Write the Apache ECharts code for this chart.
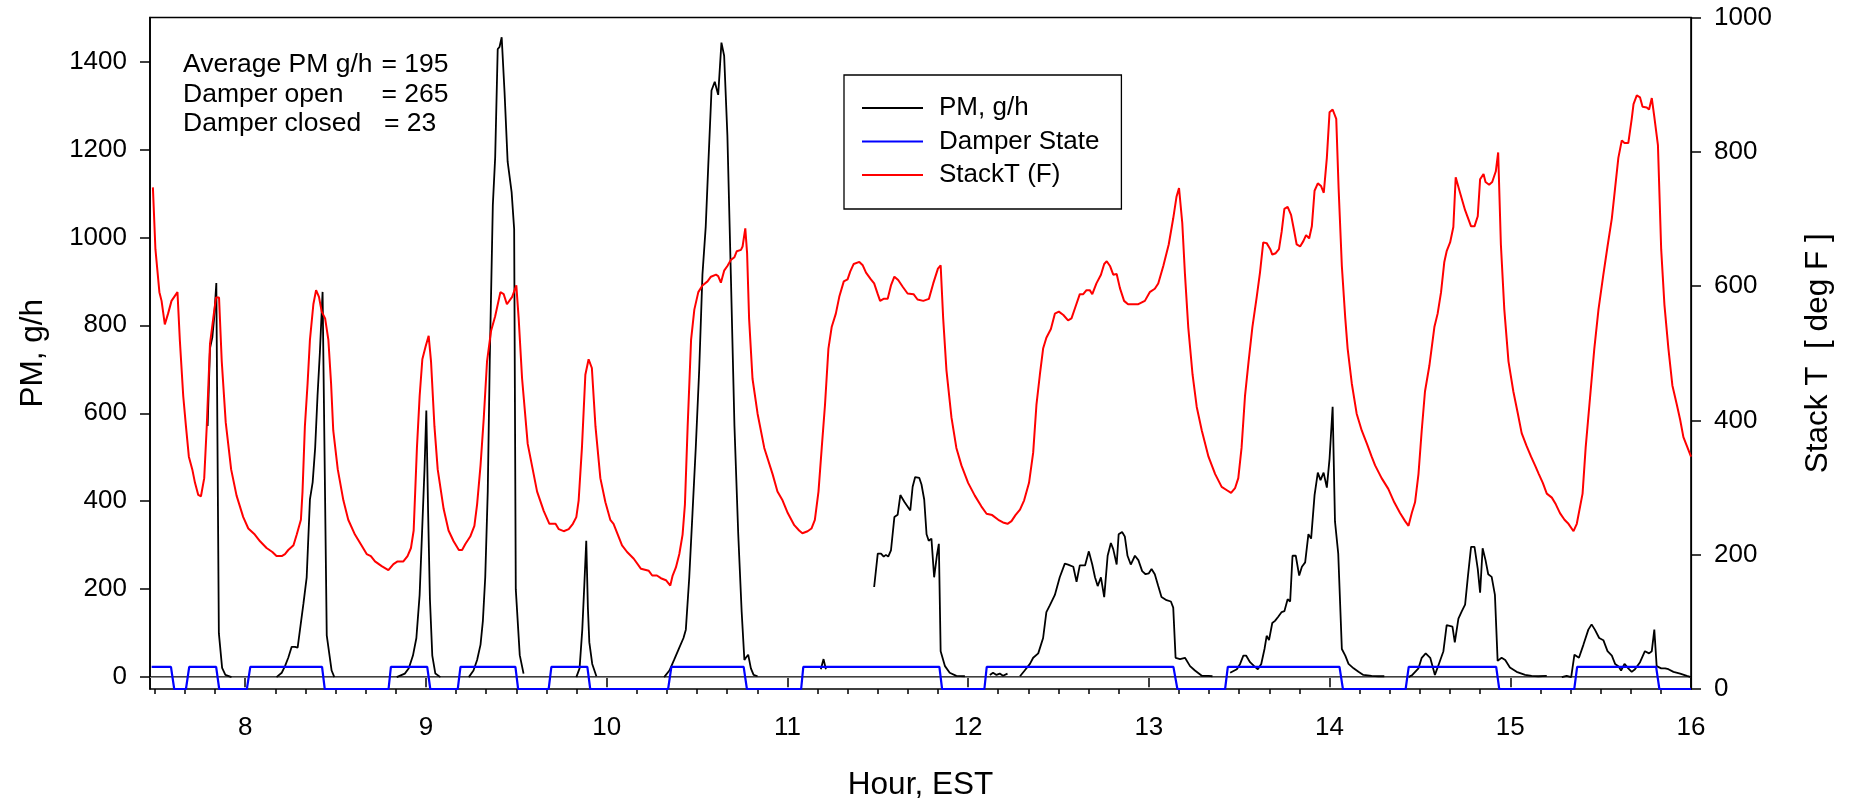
<!DOCTYPE html>
<html>
<head>
<meta charset="utf-8">
<script src="https://cdn.jsdelivr.net/npm/echarts@6/dist/echarts.min.js"></script>
<style>
html,body{margin:0;padding:0;background:#fff;}
#chart{width:1857px;height:806px;}
</style>
</head>
<body>
<div id="chart"></div>
<script>
// ---------------- DATA ----------------
// Stack temperature (deg F) vs hour (EST)
const stackHour = [
7.489,7.503,7.525,7.537,7.555,7.573,7.592,7.625,7.638,7.657,7.672,7.688,7.707,7.722,7.740,7.755,7.773,7.787,7.805,7.823,7.838,7.855,7.870,7.892,7.922,7.952,7.989,
8.017,8.053,8.082,8.118,8.150,8.173,8.202,8.220,8.238,8.267,8.285,8.308,8.317,8.330,8.345,8.358,8.377,8.392,8.408,8.423,8.442,8.460,8.475,8.487,8.512,8.543,8.570,8.607,8.643,8.672,8.695,8.718,8.755,8.792,8.820,8.843,8.875,8.898,8.917,8.932,8.950,8.965,8.980,8.998,
9.015,9.028,9.047,9.065,9.098,9.125,9.153,9.182,9.200,9.218,9.245,9.268,9.283,9.302,9.320,9.338,9.360,9.383,9.412,9.430,9.448,9.477,9.500,9.513,9.532,9.563,9.615,9.652,9.683,9.717,9.735,9.762,9.790,9.813,9.832,9.845,9.863,9.882,9.900,9.918,9.938,9.965,9.993,
10.020,10.038,10.085,10.113,10.150,10.190,10.233,10.252,10.278,10.300,10.328,10.352,10.365,10.383,10.402,10.420,10.433,10.448,10.467,10.485,10.507,10.530,10.558,10.577,10.605,10.617,10.632,10.650,10.668,10.687,10.707,10.720,10.743,10.752,10.767,10.777,10.788,10.807,10.835,10.872,10.918,10.945,10.973,
11.002,11.038,11.065,11.083,11.112,11.133,11.152,11.172,11.190,11.208,11.227,11.245,11.268,11.287,11.312,11.333,11.348,11.367,11.398,11.417,11.435,11.462,11.480,11.500,11.513,11.532,11.555,11.573,11.592,11.613,11.638,11.665,11.698,11.720,11.752,11.783,11.807,11.833,11.848,11.862,11.880,11.908,11.935,11.963,
12.000,12.037,12.073,12.102,12.133,12.167,12.193,12.218,12.240,12.262,12.287,12.310,12.337,12.360,12.378,12.397,12.415,12.433,12.458,12.480,12.502,12.527,12.553,12.572,12.595,12.618,12.637,12.655,12.673,12.687,12.710,12.735,12.753,12.767,12.785,12.803,12.822,12.840,12.863,12.885,12.942,12.978,
13.005,13.033,13.052,13.080,13.110,13.135,13.153,13.167,13.185,13.200,13.218,13.242,13.265,13.293,13.330,13.367,13.403,13.432,13.455,13.477,13.495,13.513,13.532,13.552,13.573,13.597,13.615,13.633,13.652,13.672,13.683,13.702,13.720,13.735,13.750,13.768,13.787,13.805,13.818,13.837,13.855,13.870,13.887,13.902,13.917,13.935,13.953,13.968,13.985,
14.000,14.017,14.037,14.050,14.068,14.087,14.100,14.123,14.150,14.178,14.207,14.233,14.252,14.288,14.325,14.358,14.390,14.418,14.437,14.455,14.473,14.492,14.510,14.528,14.552,14.580,14.598,14.617,14.635,14.648,14.667,14.685,14.698,14.722,14.750,14.783,14.802,14.820,14.833,14.852,14.863,14.883,14.900,14.920,14.933,14.948,14.967,14.990,
15.017,15.042,15.063,15.090,15.115,15.137,15.158,15.180,15.202,15.230,15.252,15.275,15.300,15.322,15.350,15.368,15.400,15.417,15.442,15.465,15.488,15.515,15.538,15.562,15.580,15.598,15.617,15.632,15.653,15.672,15.682,15.700,15.718,15.732,15.755,15.768,15.783,15.797,15.817,15.835,15.853,15.875,15.897,15.922,15.940,15.958,15.977,16.000
];
const stackTempF = [
747,655,591,578,543,559,578,591,520,436,391,346,327,307,289,287,314,391,514,552,583,583,488,397,327,288,256,
239,230,220,210,204,198,198,201,207,214,230,252,294,391,455,520,573,594,584,562,552,520,455,385,327,281,252,230,214,201,198,190,183,177,186,190,190,198,210,236,359,436,491,510,
526,488,391,327,268,236,220,207,207,216,227,243,275,333,404,488,533,555,591,588,573,584,601,552,462,365,294,265,246,246,238,235,238,246,256,281,359,468,491,478,391,314,278,
252,246,214,204,194,179,176,169,169,165,162,154,169,181,201,230,275,391,520,565,591,601,607,614,617,615,605,623,630,639,643,652,654,659,686,649,552,462,410,359,320,294,281,
262,244,236,232,235,239,252,294,359,423,507,539,559,584,607,610,622,633,636,631,620,610,604,588,578,581,581,601,614,609,599,589,588,580,578,581,604,626,631,552,475,404,359,333,
307,288,272,261,259,252,248,246,250,259,267,281,307,352,423,468,507,523,536,559,562,557,549,552,570,588,588,594,594,588,604,617,633,637,630,617,618,597,578,573,573,578,
591,596,604,630,662,701,733,746,694,617,539,468,420,385,346,320,301,296,292,299,314,359,436,488,539,584,620,665,664,655,647,649,655,681,715,718,706,681,662,659,667,676,671,689,742,753,749,739,791,
859,863,849,746,630,552,507,455,410,385,365,346,333,314,298,278,262,250,243,262,278,320,385,443,481,539,559,591,636,652,665,688,762,739,713,689,689,704,759,767,755,751,755,771,799,662,565,488,
443,410,381,362,346,333,320,307,291,285,275,262,252,246,235,246,291,359,436,507,565,617,659,701,746,791,817,813,813,849,871,884,881,867,866,863,880,852,810,655,572,507,452,423,401,375,362,346
];

// PM (g/h) vs hour; null marks a gap in the record
const pmHour = [
7.792,7.805,7.818,7.828,7.840,7.854,7.872,7.890,7.924, 8.05,
8.173,8.202,8.220,8.238,8.257,8.275,8.290,8.303,8.322,8.340,8.358,8.373,8.387,8.400,8.413,8.428,8.451,8.478,8.493, 8.65,
8.838,8.883,8.905,8.928,8.947,8.965,8.978,8.992,9.002,9.012,9.022,9.035,9.052,9.080, 9.15,
9.237,9.263,9.283,9.302,9.315,9.328,9.342,9.353,9.370,9.383,9.397,9.407,9.419,9.435,9.452,9.474,9.488,9.497,9.519,9.540, 9.7,
9.832,9.850,9.865,9.876,9.887,9.896,9.904,9.920,9.943, 10.1,
10.318,10.347,10.373,10.402,10.425,10.438,10.457,10.475,10.493,10.512,10.530,10.548,10.562,10.580,10.598,10.617,10.635,10.650,10.668,10.687,10.707,10.728,10.747,10.762,10.770,10.783,10.798,10.813,10.835, 11.0,
11.185,11.200,11.213, 11.3,
11.480,11.500,11.518,11.533,11.545,11.558,11.573,11.592,11.610,11.625,11.647,11.680,11.693,11.707,11.730,11.742,11.757,11.770,11.782,11.797,11.812,11.827,11.838,11.848,11.872,11.898,11.935,11.982, 12.05,
12.120,12.138,12.157,12.175,12.193,12.218, 12.25,
12.287,12.313,12.342,12.360,12.388,12.415,12.433,12.452,12.480,12.507,12.535,12.553,12.582,12.600,12.618,12.647,12.668,12.687,12.702,12.717,12.735,12.753,12.772,12.790,12.803,12.822,12.833,12.852,12.867,12.882,12.900,12.923,12.942,12.963,12.982,13.000,13.015,13.033,13.052,13.070,13.098,13.122,13.135,13.148,13.173,13.200,13.228,13.255,13.293,13.330,13.352, 13.4,
13.450,13.487,13.505,13.523,13.538,13.560,13.583,13.603,13.622,13.640,13.652,13.665,13.683,13.698,13.717,13.735,13.750,13.768,13.782,13.795,13.813,13.832,13.847,13.865,13.883,13.898,13.917,13.935,13.950,13.967,13.985,14.000,14.017,14.030,14.048,14.068,14.087,14.105,14.133,14.160,14.187,14.233,14.270,14.303, 14.37,
14.437,14.458,14.492,14.510,14.532,14.557,14.583,14.605,14.630,14.648,14.680,14.693,14.713,14.732,14.750,14.765,14.783,14.802,14.820,14.833,14.847,14.863,14.878,14.897,14.915,14.930,14.952,14.972,14.998,15.035,15.082,15.118,15.155,15.202, 15.24,
15.285,15.312,15.337,15.355,15.380,15.405,15.432,15.450,15.468,15.492,15.515,15.538,15.562,15.580,15.598,15.613,15.632,15.653,15.672,15.690,15.718,15.745,15.768,15.783,15.797,15.810,15.835,15.857,15.875,15.903,15.940,15.977,16.000
];
const pmGph = [
571,748,773,817,896,100,21,5,0, null,
0,10,25,44,69,69,67,108,167,227,404,443,522,640,738,876,95,15,0, null,
0,8,20,49,89,187,325,473,606,374,177,49,8,0, null,
0,15,39,74,128,227,423,719,1073,1182,1428,1433,1455,1329,1172,1103,1019,200,50,8, null,
0,20,108,207,310,158,79,30,2, null,
0,15,39,67,89,108,227,374,522,699,916,1024,1162,1334,1354,1324,1443,1413,1231,916,571,325,148,39,44,51,20,5,2, null,
18,41,18, null,
205,281,281,274,278,274,288,364,369,414,399,379,433,455,453,438,404,325,310,315,227,276,303,59,25,10,3,2, null,
5,10,5,8,3,8, null,
2,15,30,44,54,89,148,163,187,227,258,256,251,217,254,254,286,256,227,207,227,182,276,305,291,256,325,330,320,276,256,276,266,241,234,236,246,234,207,182,175,172,158,44,41,44,25,15,3,3,2, null,
10,18,30,49,49,34,25,18,30,64,94,84,123,128,138,148,150,177,172,276,276,231,251,261,325,315,414,465,448,465,431,497,615,354,281,64,49,30,20,12,5,3,2,2, null,
0,5,20,44,54,44,5,30,59,118,115,79,133,150,165,227,296,296,246,192,293,266,234,228,187,37,44,39,22,12,5,3,2,3, null,
0,3,0,51,44,74,108,120,108,89,84,59,49,30,25,15,30,20,12,18,34,59,54,59,108,25,20,20,18,12,8,3,0
];

// Damper state (drawn against the right axis: 33 = open, 0 = closed)
const damperHour = [
7.482,7.589,7.607,7.672,7.690,7.839,7.856,8.009,8.028,8.425,8.440,8.793,8.806,9.007,9.024,9.176,9.191,9.495,9.510,9.679,9.694,9.893,9.909,
10.340,10.358,10.758,10.776,11.076,11.088,11.841,11.856,12.090,12.103,13.136,13.158,13.422,13.437,14.055,14.074,14.421,14.438,14.922,14.939,15.354,15.370,15.807,15.825,16.000
];
const damperState = [
33,33,0,0,33,33,0,0,33,33,0,0,33,33,0,0,33,33,0,0,33,33,0,
0,33,33,0,0,33,33,0,0,33,33,0,0,33,33,0,0,33,33,0,0,33,33,0,0
];

// Axis ticks
const hourTicks = [8,9,10,11,12,13,14,15,16];
const hourMinorTicks = [
7.5,7.6667,7.8333,
8.1667,8.3333,8.5,8.6667,8.8333,
9.1667,9.3333,9.5,9.6667,9.8333,
10.1667,10.3333,10.5,10.6667,10.8333,
11.1667,11.3333,11.5,11.6667,11.8333,
12.1667,12.3333,12.5,12.6667,12.8333,
13.1667,13.3333,13.5,13.6667,13.8333,
14.1667,14.3333,14.5,14.6667,14.8333,
15.1667,15.3333,15.5,15.6667,15.8333
];
const pmTicks = [0,200,400,600,800,1000,1200,1400];

const noteLabels = ['Average PM g/h', 'Damper open', 'Damper closed'];
const noteValues = ['= 195', '= 265', '= 23'];

// ---------------- CHART ----------------
const FONT = '"Liberation Sans", Arial, Helvetica, sans-serif';
const X_MIN = 7.473, X_MAX = 16;

const pmData = pmHour.map((t, i) => [t, pmGph[i]]);
const stackData = stackHour.map((t, i) => [t, stackTempF[i]]);
const damperData = damperHour.map((t, i) => [t, damperState[i]]);

const chart = echarts.init(document.getElementById('chart'), null, {renderer: 'canvas'});

const axisLine = {show: true, lineStyle: {color: '#000', width: 1.6}};
const plain = v => String(v);

const noteGraphics = [];
const noteY = [65, 95, 124];
const noteValX = [381.5, 381.5, 384];
noteLabels.forEach((s, i) => {
  noteGraphics.push({type: 'text', x: 183, y: noteY[i],
    style: {text: s, fill: '#000', fontSize: 26.5, fontFamily: FONT, verticalAlign: 'middle'}});
  noteGraphics.push({type: 'text', x: noteValX[i], y: noteY[i],
    style: {text: noteValues[i], fill: '#000', fontSize: 26.5, fontFamily: FONT, verticalAlign: 'middle'}});
});

chart.setOption({
  animation: false,
  backgroundColor: '#fff',
  textStyle: {fontFamily: FONT},
  grid: {left: 150, right: 166, top: 17.5, bottom: 116, show: true,
         borderColor: '#000', borderWidth: 1.6, containLabel: false},
  legend: {
    orient: 'vertical', left: 844, top: 75,
    padding: [19, 22, 20, 18],
    itemWidth: 61, itemHeight: 2, itemGap: 5.5, icon: 'rect',
    borderColor: '#000', borderWidth: 1.3,
    textStyle: {fontSize: 26, color: '#000', fontFamily: FONT, lineHeight: 28, padding: [0, 0, 0, 11]},
    data: ['PM, g/h', 'Damper State', 'StackT (F)']
  },
  xAxis: [
    {
      type: 'value', min: X_MIN, max: X_MAX, position: 'bottom',
      axisLine: axisLine,
      axisTick: {show: true, customValues: hourTicks, length: 10, inside: false, lineStyle: {color: '#000', width: 1.5}},
      axisLabel: {customValues: hourTicks, fontSize: 26, color: '#000', margin: 26, fontFamily: FONT, formatter: plain},
      splitLine: {show: false},
      name: 'Hour, EST', nameLocation: 'middle', nameGap: 80,
      nameTextStyle: {fontSize: 31.5, color: '#000', fontFamily: FONT}
    },
    {
      type: 'value', min: X_MIN, max: X_MAX, position: 'bottom',
      axisLine: {show: false},
      axisTick: {show: true, customValues: hourMinorTicks, length: 5, inside: false, lineStyle: {color: '#000', width: 1.5}},
      axisLabel: {show: false},
      splitLine: {show: false}
    }
  ],
  yAxis: [
    {
      type: 'value', position: 'left', min: -27, max: 1500,
      axisLine: axisLine,
      axisTick: {show: true, customValues: pmTicks, length: 10, lineStyle: {color: '#000', width: 1.5}},
      axisLabel: {customValues: pmTicks, fontSize: 26, color: '#000', margin: 23, fontFamily: FONT, formatter: plain},
      splitLine: {show: false},
      name: 'PM, g/h', nameLocation: 'middle', nameGap: 101, nameRotate: 90,
      nameTextStyle: {fontSize: 31.5, color: '#000', fontFamily: FONT}
    },
    {
      type: 'value', position: 'right', min: 0, max: 1000, interval: 200,
      axisLine: {show: true, lineStyle: {color: '#000', width: 1.2}},
      axisTick: {show: true, length: 10, lineStyle: {color: '#000', width: 1.5}},
      axisLabel: {fontSize: 26, color: '#000', margin: 23, fontFamily: FONT, formatter: plain},
      splitLine: {show: false},
      name: 'Stack T  [ deg F ]', nameLocation: 'middle', nameGap: 111, nameRotate: 90,
      nameTextStyle: {fontSize: 31.5, color: '#000', fontFamily: FONT}
    }
  ],
  graphic: noteGraphics,
  series: [
    {
      name: 'PM, g/h', type: 'line', xAxisIndex: 0, yAxisIndex: 0,
      data: pmData, symbol: 'none', showSymbol: false, connectNulls: false,
      lineStyle: {color: '#000', width: 1.8}, itemStyle: {color: '#000'}, z: 3,
      markLine: {
        silent: true, symbol: ['none', 'none'], z: 1, animation: false,
        label: {show: false},
        lineStyle: {color: '#8a8a8a', width: 1.2, type: 'solid'},
        data: [{yAxis: 0}]
      }
    },
    {
      name: 'Damper State', type: 'line', xAxisIndex: 0, yAxisIndex: 1,
      data: damperData, symbol: 'none', showSymbol: false,
      lineStyle: {color: '#0000ff', width: 2.2}, itemStyle: {color: '#0000ff'}, z: 3
    },
    {
      name: 'StackT (F)', type: 'line', xAxisIndex: 0, yAxisIndex: 1,
      data: stackData, symbol: 'none', showSymbol: false,
      lineStyle: {color: '#ff0000', width: 2}, itemStyle: {color: '#ff0000'}, z: 4
    }
  ]
});
</script>
</body>
</html>
